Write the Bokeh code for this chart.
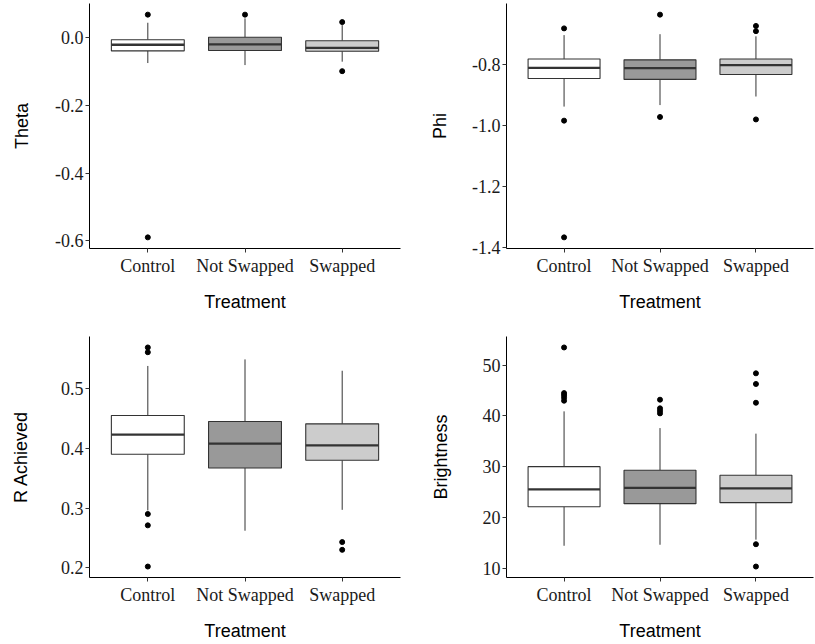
from bokeh.plotting import figure
from bokeh.layouts import gridplot
from bokeh.models import Range1d, FixedTicker, PrintfTickFormatter
from bokeh.embed import file_html
from bokeh.resources import INLINE

categories = ["Control", "Not Swapped", "Swapped"]
fills = ["#ffffff", "#999999", "#cccccc"]
x_title = "Treatment"

# Theta
theta_q1 = [-0.039, -0.038, -0.040]
theta_med = [-0.021, -0.020, -0.030]
theta_q3 = [-0.006, 0.001, -0.009]
theta_lo = [-0.075, -0.081, -0.071]
theta_hi = [0.044, 0.057, 0.037]
theta_out_cat = ["Control", "Control", "Not Swapped", "Swapped", "Swapped"]
theta_out_y = [0.068, -0.590, 0.068, 0.046, -0.099]
theta_ticks = [0.0, -0.2, -0.4, -0.6]

# Phi
phi_q1 = [-0.847, -0.850, -0.834]
phi_med = [-0.812, -0.813, -0.803]
phi_q3 = [-0.783, -0.786, -0.783]
phi_lo = [-0.939, -0.934, -0.906]
phi_hi = [-0.705, -0.702, -0.709]
phi_out_cat = ["Control", "Control", "Control", "Not Swapped", "Not Swapped",
               "Swapped", "Swapped", "Swapped"]
phi_out_y = [-0.683, -0.985, -1.367, -0.638, -0.973, -0.675, -0.692, -0.981]
phi_ticks = [-0.8, -1.0, -1.2, -1.4]

# R Achieved
r_q1 = [0.390, 0.367, 0.380]
r_med = [0.423, 0.408, 0.405]
r_q3 = [0.455, 0.445, 0.441]
r_lo = [0.296, 0.262, 0.297]
r_hi = [0.538, 0.549, 0.530]
r_out_cat = ["Control", "Control", "Control", "Control", "Control", "Swapped", "Swapped"]
r_out_y = [0.569, 0.561, 0.290, 0.271, 0.202, 0.243, 0.230]
r_ticks = [0.2, 0.3, 0.4, 0.5]

# Brightness
b_q1 = [22.1, 22.7, 22.9]
b_med = [25.5, 25.8, 25.7]
b_q3 = [30.0, 29.3, 28.3]
b_lo = [14.4, 14.6, 15.6]
b_hi = [40.9, 37.6, 36.5]
b_out_cat = ["Control", "Control", "Control", "Control", "Control",
             "Not Swapped", "Not Swapped", "Not Swapped", "Not Swapped",
             "Swapped", "Swapped", "Swapped", "Swapped", "Swapped"]
b_out_y = [53.5, 44.5, 44.1, 43.6, 43.0, 43.2, 41.5, 41.0, 40.5,
           48.4, 46.3, 42.6, 14.7, 10.3]
b_ticks = [10, 20, 30, 40, 50]

EDGE = "#333333"
BOXW = 0.75
TICK_FONT = "Liberation Serif"
TITLE_FONT = "Liberation Sans"
FS = "18px"


def panel(ylabel, q1, med, q3, lo, hi, out_cat, out_y, ticks, fmt,
          w, h, bl, br, bt, bb, y_title_gap):
    xs = [i + 1 for i in range(len(categories))]
    ox = [categories.index(c) + 1 for c in out_cat]
    allv = list(lo) + list(hi) + list(out_y) + list(q1) + list(q3)
    mn, mx = min(allv), max(allv)
    pad = 0.05 * (mx - mn)
    p = figure(width=w, height=h, x_range=Range1d(0.4, len(categories) + 0.6),
               y_range=Range1d(mn - pad, mx + pad),
               output_backend="svg", toolbar_location=None,
               min_border_left=bl, min_border_right=br,
               min_border_top=bt, min_border_bottom=bb)
    p.segment(xs, q3, xs, hi, line_color=EDGE, line_width=1)
    p.segment(xs, q1, xs, lo, line_color=EDGE, line_width=1)
    p.vbar(x=xs, width=BOXW, bottom=q1, top=q3, fill_color=fills,
           line_color=EDGE, line_width=1.1)
    p.segment([x - BOXW / 2 for x in xs], med, [x + BOXW / 2 for x in xs], med,
              line_color=EDGE, line_width=2.3)
    p.scatter(ox, out_y, size=5, color="black")

    p.xgrid.visible = False
    p.ygrid.visible = False
    p.outline_line_color = None
    p.background_fill_color = "white"
    p.border_fill_color = "white"

    xa = p.xaxis[0]
    xa.ticker = FixedTicker(ticks=xs)
    xa.major_label_overrides = {float(x): c for x, c in zip(xs, categories)}
    xa.axis_label = x_title
    ya = p.yaxis[0]
    ya.ticker = FixedTicker(ticks=ticks)
    ya.formatter = PrintfTickFormatter(format=fmt)
    ya.axis_label = ylabel
    for ax in (xa, ya):
        ax.axis_line_color = "black"
        ax.axis_line_width = 1
        ax.major_tick_line_color = "#333333"
        ax.major_tick_out = 4
        ax.major_tick_in = 0
        ax.minor_tick_line_color = None
        ax.major_label_text_font = TICK_FONT
        ax.major_label_text_font_size = FS
        ax.major_label_text_color = "#1a1a1a"
        ax.axis_label_text_font = TITLE_FONT
        ax.axis_label_text_font_size = FS
        ax.axis_label_text_font_style = "normal"
        ax.axis_label_text_color = "black"
    xa.major_label_standoff = 3
    xa.axis_label_standoff = 13
    ya.major_label_standoff = 2
    ya.axis_label_standoff = y_title_gap
    return p


p1 = panel("Theta", theta_q1, theta_med, theta_q3, theta_lo, theta_hi,
           theta_out_cat, theta_out_y, theta_ticks, "%.1f",
           405, 320, 89, 5, 3, 72, 20)
p2 = panel("Phi", phi_q1, phi_med, phi_q3, phi_lo, phi_hi,
           phi_out_cat, phi_out_y, phi_ticks, "%.1f",
           409, 320, 101, 1, 3, 72, 19)
p3 = panel("R Achieved", r_q1, r_med, r_q3, r_lo, r_hi,
           r_out_cat, r_out_y, r_ticks, "%.1f",
           405, 323, 83, 3, 16, 62, 27)
p4 = panel("Brightness", b_q1, b_med, b_q3, b_lo, b_hi,
           b_out_cat, b_out_y, b_ticks, "%d",
           409, 323, 91, 1, 16, 62, 29)

grid = gridplot([[p1, p2], [p3, p4]], toolbar_location=None)

open("out.html", "w").write(file_html(grid, INLINE))
